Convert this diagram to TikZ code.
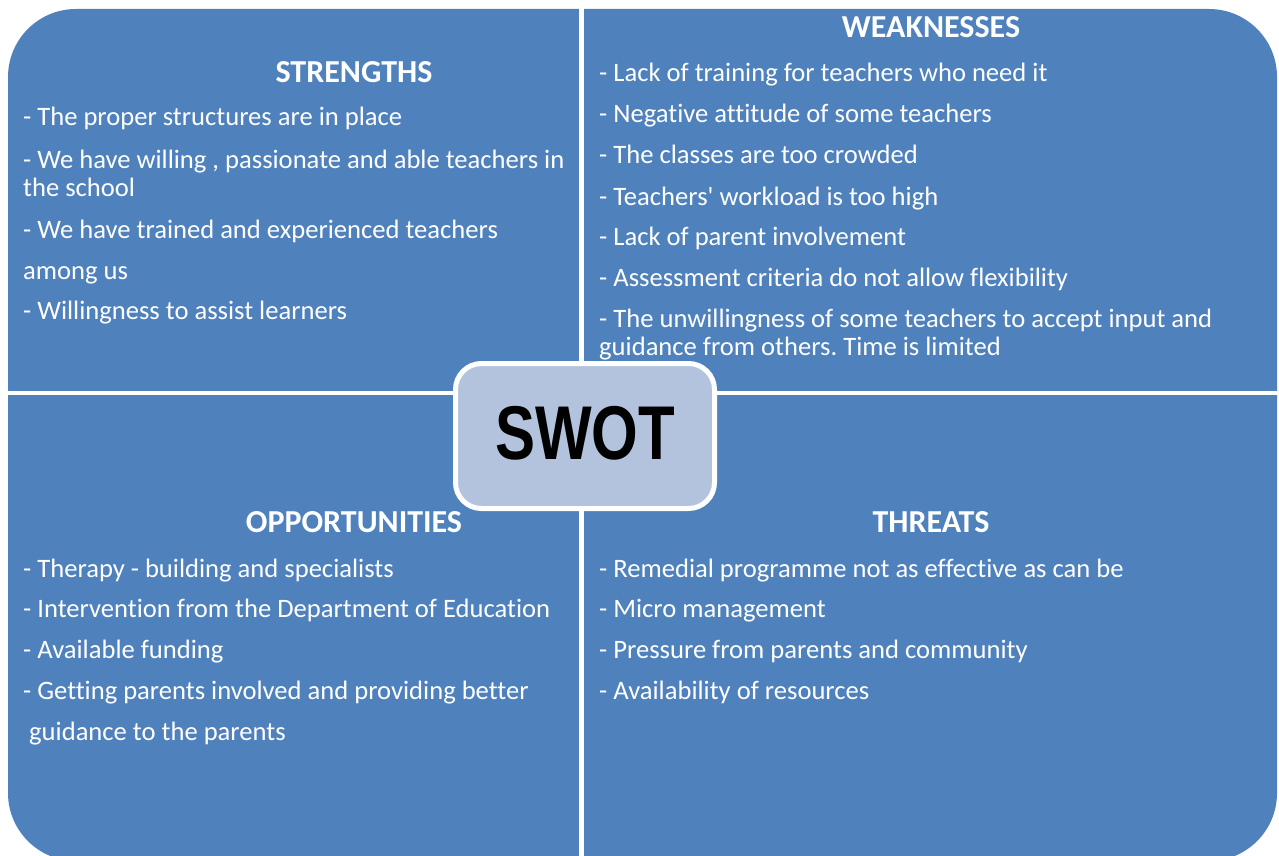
\documentclass[tikz,border=0pt]{standalone}
\usepackage{fontspec}
\setmainfont{Carlito}[Ligatures={NoCommon}]
\newfontfamily\swotfont{Liberation Sans}
\definecolor{quadblue}{HTML}{4F81BD}
\definecolor{swotfill}{HTML}{B3C3DE}
\frenchspacing
\begin{document}
\begin{tikzpicture}[x=1pt,y=-1pt,
  itemtxt/.style={anchor=base west,inner sep=0pt,text=white,font=\fontsize{26.6}{30}\selectfont},
  headtxt/.style={anchor=base,inner sep=0pt,text=white,font=\fontsize{32}{36}\selectfont\bfseries},
  gapline/.style={draw=white,line width=5pt}]
\useasboundingbox (0,0) rectangle (1279,856);
\fill[white] (0,0) rectangle (1279,856);
% main rounded shape
\fill[quadblue,rounded corners=68pt] (8,9) rectangle (1277,861);
% white gaps between the quadrants
\draw[gapline] (581.5,0) -- (581.5,870);
\draw[gapline,line width=4.5pt] (0,393) -- (1290,393);
% centre box
\node[draw=white,line width=5pt,fill=swotfill,rounded corners=26pt,
      minimum width=259pt,minimum height=145pt,inner sep=0pt] (swot) at (585,436) {};
\node[inner sep=0pt,font=\swotfont\bfseries\fontsize{60}{60}\selectfont] (swottxt) at (585,433) {\scalebox{1}[1.27]{SWOT}};
% STRENGTHS
\node[headtxt] (sh) at (354,83) {STRENGTHS};
\node[itemtxt] (s1) at (23,126) {- The proper structures are in place};
\node[itemtxt] (s2) at (23,168) {- We have willing , passionate and able teachers in};
\node[itemtxt] (s2b) at (23,196) {the school};
\node[itemtxt] (s3) at (23,238) {- We have trained and experienced teachers};
\node[itemtxt] (s3b) at (23,279) {among us};
\node[itemtxt] (s4) at (23,319) {- Willingness to assist learners};
% WEAKNESSES
\node[headtxt] (wh) at (931,38) {WEAKNESSES};
\node[itemtxt] (w1) at (599,82) {- Lack of training for teachers who need it};
\node[itemtxt] (w2) at (599,123) {- Negative attitude of some teachers};
\node[itemtxt] (w3) at (599,164) {- The classes are too crowded};
\node[itemtxt] (w4) at (599,205) {- Teachers\textquotesingle{} workload is too high};
\node[itemtxt] (w5) at (599,245) {- Lack of parent involvement};
\node[itemtxt] (w6) at (599,286) {- Assessment criteria do not allow flexibility};
\node[itemtxt] (w7) at (599,327) {- The unwillingness of some teachers to accept input and};
\node[itemtxt] (w7b) at (599,355) {guidance from others. Time is limited};
% OPPORTUNITIES
\node[headtxt] (oh) at (354,532) {OPPORTUNITIES};
\node[itemtxt] (o1) at (23,577) {- Therapy - building and specialists};
\node[itemtxt] (o2) at (23,617) {- Intervention from the Department of Education};
\node[itemtxt] (o3) at (23,658) {- Available funding};
\node[itemtxt] (o4) at (23,699) {- Getting parents involved and providing better};
\node[itemtxt] (o4b) at (29,740) {guidance to the parents};
% THREATS
\node[headtxt] (th) at (931,532) {THREATS};
\node[itemtxt] (t1) at (599,577) {- Remedial programme not as effective as can be};
\node[itemtxt] (t2) at (599,617) {- Micro management};
\node[itemtxt] (t3) at (599,658) {- Pressure from parents and community};
\node[itemtxt] (t4) at (599,699) {- Availability of resources};
\end{tikzpicture}
\end{document}
